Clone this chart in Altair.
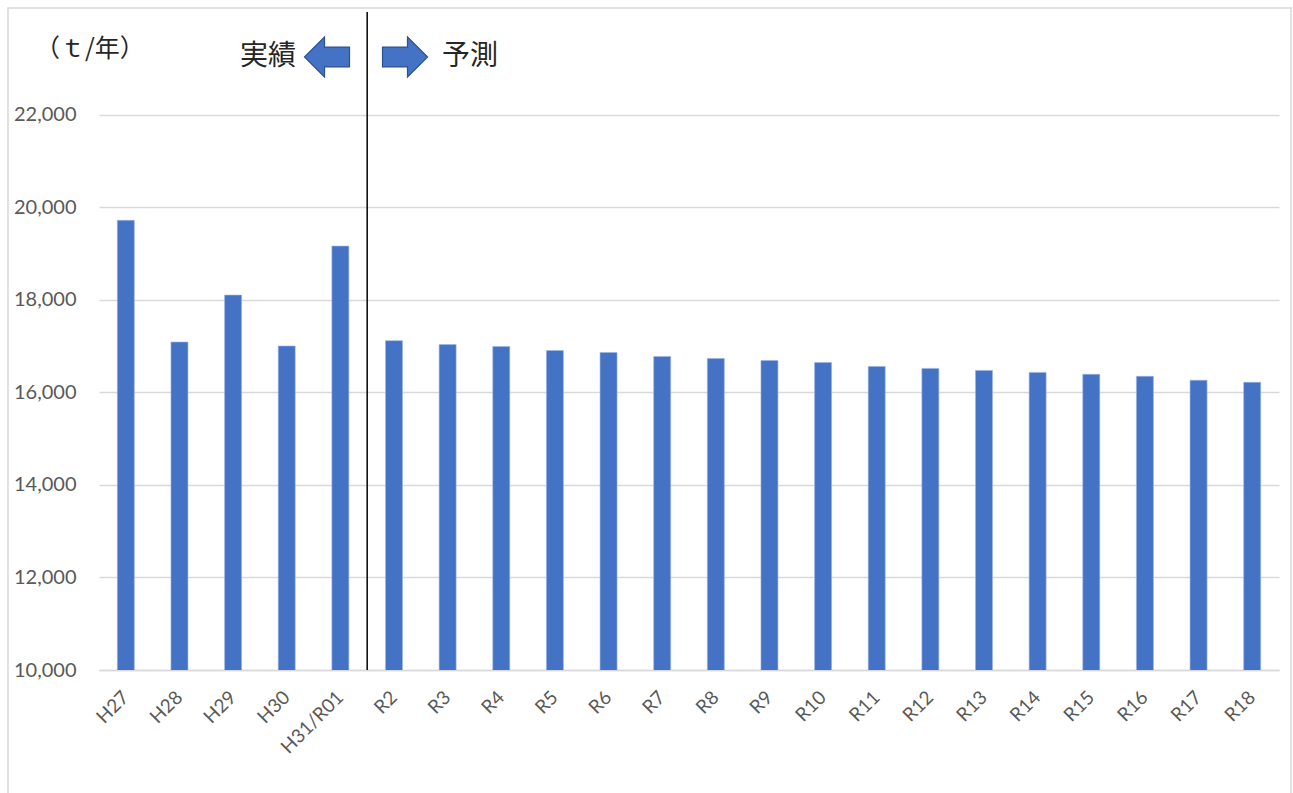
import altair as alt
import pandas as pd

categories = ["H27", "H28", "H29", "H30", "H31/R01", "R2", "R3", "R4", "R5", "R6",
              "R7", "R8", "R9", "R10", "R11", "R12", "R13", "R14", "R15", "R16",
              "R17", "R18"]
values = [19715, 17086, 18100, 17000, 19158, 17116, 17031, 16988, 16902, 16859,
          16774, 16731, 16688, 16645, 16559, 16516, 16473, 16430, 16388, 16345,
          16260, 16216]
y_ticks = [10000, 12000, 14000, 16000, 18000, 20000, 22000]
unit_label = "（ｔ/年）"
left_label = "実績"
right_label = "予測"
split_category = "R2"

df = pd.DataFrame({"cat": categories, "val": values})
one = pd.DataFrame({"a": [0]})

W, H = 1180, 648
LBL = "#595959"
GRID = "#D9D9D9"
BLUE = "#4472C4"
JP = "Noto Sans CJK JP"
NUM = "Lato"

x_enc = alt.X("cat:N", sort=categories,
              scale=alt.Scale(paddingInner=0, paddingOuter=0),
              axis=alt.Axis(title=None, labelAngle=-45, labelFontSize=19,
                            labelColor=LBL, labelFont=NUM, ticks=False,
                            domainColor=GRID, domainWidth=1.5, labelPadding=24,
                            labelAlign="right", labelBaseline="middle"))

bars = alt.Chart(df).mark_bar(size=17, color=BLUE, stroke="#9DB5E3",
                              strokeWidth=0.6, clip=True).encode(
    x=x_enc,
    y=alt.Y("val:Q", scale=alt.Scale(domain=[10000, 24000], nice=False, zero=False),
            axis=alt.Axis(title=None, values=y_ticks, format=",d", labelFontSize=20,
                          labelColor=LBL, labelFont=NUM, ticks=False, domain=False,
                          gridColor=GRID, gridWidth=1.5, labelPadding=23)),
)

rule = alt.Chart(one).mark_rule(color="black", strokeWidth=1.5).encode(
    x=alt.XDatum(split_category, bandPosition=0),
    y=alt.value(-10),
    y2=alt.value(H),
)

border = alt.Chart(one).mark_rect(fill=None, stroke=GRID, strokeWidth=1.5,
                                  clip=False).encode(
    x=alt.value(-91), x2=alt.value(1192), y=alt.value(-14), y2=alt.value(H + 140),
)

arrow_left = "M -1 0 L -0.11 -0.89 L -0.11 -0.44 L 1 -0.44 L 1 0.44 L -0.11 0.44 L -0.11 0.89 Z"
arrow_right = "M 1 0 L 0.11 -0.89 L 0.11 -0.44 L -1 -0.44 L -1 0.44 L 0.11 0.44 L 0.11 0.89 Z"

a1 = alt.Chart(one).mark_point(shape=arrow_left, size=2025, filled=True, fill=BLUE,
                               stroke="#2F528F", strokeWidth=1.2, opacity=1).encode(
    x=alt.value(228), y=alt.value(35))
a2 = alt.Chart(one).mark_point(shape=arrow_right, size=2025, filled=True, fill=BLUE,
                               stroke="#2F528F", strokeWidth=1.2, opacity=1).encode(
    x=alt.value(306), y=alt.value(35))

t_unit = alt.Chart(one).mark_text(text=unit_label, font=JP, fontSize=25, color="#262626",
                                  align="left", baseline="middle").encode(
    x=alt.value(-64), y=alt.value(27))
t_left = alt.Chart(one).mark_text(text=left_label, font=JP, fontSize=28, color="#262626",
                                  align="right", baseline="middle").encode(
    x=alt.value(197), y=alt.value(35))
t_right = alt.Chart(one).mark_text(text=right_label, font=JP, fontSize=28, color="#262626",
                                   align="left", baseline="middle").encode(
    x=alt.value(343), y=alt.value(35))

chart = alt.layer(bars, rule, border, a1, a2, t_unit, t_left, t_right).properties(
    width=W, height=H,
    autosize=alt.AutoSizeParams(type="none"),
    padding={"left": 99, "top": 22, "right": 14, "bottom": 123},
    background="white",
).configure_view(stroke=None)

chart.save("out.html", embed_options={"renderer": "svg", "actions": False})
